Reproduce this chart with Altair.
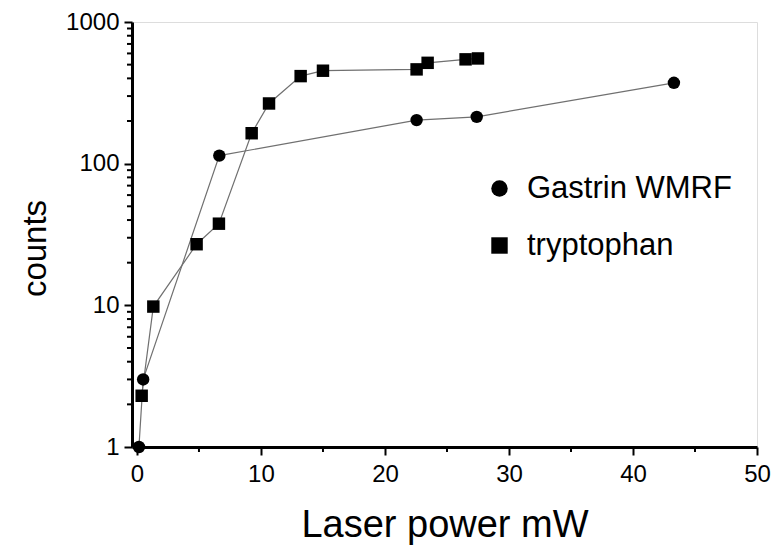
import altair as alt
import pandas as pd

# Gastrin WMRF series
gastrin_x = [0.16, 0.5, 6.64, 22.55, 27.4, 43.3]
gastrin_y = [1.0, 3.0, 114, 203, 214, 372]

# tryptophan series
trp_x = [0.38, 1.32, 4.81, 6.61, 9.25, 10.65, 13.2, 15.0, 22.55, 23.44, 26.5, 27.5]
trp_y = [2.3, 9.8, 27, 37.7, 164, 266, 415, 453, 463, 515, 545, 553]

series_names = ["Gastrin WMRF", "tryptophan"]

x_major = [0, 10, 20, 30, 40, 50]
x_minor = [5, 15, 25, 35, 45]
y_major = [1, 10, 100, 1000]
y_minor = [2, 3, 4, 5, 6, 7, 8, 9,
           20, 30, 40, 50, 60, 70, 80, 90,
           200, 300, 400, 500, 600, 700, 800, 900]

rows = []
for i, (x, y) in enumerate(zip(gastrin_x, gastrin_y)):
    rows.append({"power": x, "counts": y, "series": series_names[0], "idx": i})
for i, (x, y) in enumerate(zip(trp_x, trp_y)):
    rows.append({"power": x, "counts": y, "series": series_names[1], "idx": i})
df = pd.DataFrame(rows)

df_xminor = pd.DataFrame({"power": [float(v) for v in x_minor]})
df_yminor = pd.DataFrame({"counts": [float(v) for v in y_minor]})

FONT = "Liberation Sans"
W, H = 625, 425

x_scale = alt.Scale(domain=[-0.4, 50], nice=False, zero=False)
y_scale = alt.Scale(type="log", domain=[1, 1000], nice=False)

x_enc = alt.X(
    "power:Q",
    scale=x_scale,
    axis=alt.Axis(
        values=x_major,
        tickSize=8,
        tickWidth=2,
        tickColor="black",
        domainColor="black",
        domainWidth=3,
        labelFontSize=24,
        labelColor="black",
        labelPadding=7,
        labelFlush=False,
        grid=False,
        title="Laser power mW",
        titleFontSize=38,
        titleFontWeight="normal",
        titleColor="black",
        titleBaseline="alphabetic",
        titleY=89,
    ),
)

y_enc = alt.Y(
    "counts:Q",
    scale=y_scale,
    axis=alt.Axis(
        values=y_major,
        format="d",
        tickSize=8,
        tickWidth=2,
        tickColor="black",
        domainColor="black",
        domainWidth=3,
        labelFontSize=24,
        labelColor="black",
        labelPadding=5,
        labelFlush=False,
        grid=False,
        title="counts",
        titleFontSize=33,
        titleFontWeight="normal",
        titleColor="black",
        titleAngle=-90,
        titleAlign="center",
        titleBaseline="middle",
        titleX=-97,
        titleY=226,
    ),
)

lines = alt.Chart(df).mark_line(color="#707070", strokeWidth=1.2).encode(
    x=x_enc,
    y=y_enc,
    detail="series:N",
    order="idx:Q",
)

points = alt.Chart(df).mark_point(
    filled=True, color="black", opacity=1, size=155
).encode(
    x="power:Q",
    y="counts:Q",
    shape=alt.Shape(
        "series:N",
        scale=alt.Scale(domain=series_names, range=["circle", "square"]),
        legend=alt.Legend(
            title=None,
            orient="none",
            legendX=352,
            legendY=151,
            padding=0,
            labelFontSize=31,
            labelFont=FONT,
            labelColor="black",
            labelLimit=0,
            labelOffset=12,
            rowPadding=25,
            symbolSize=270,
            symbolFillColor="black",
            symbolStrokeColor="black",
            symbolStrokeWidth=0,
            symbolOpacity=1,
        ),
    ),
)

# minor tick marks on the x axis (outside, below the plot)
x_minor_ticks = alt.Chart(df_xminor).mark_rule(color="black", strokeWidth=2).encode(
    x=alt.X("power:Q"),
    y=alt.YValue(H),
    y2=alt.Y2Value(H + 5),
)

# minor tick marks on the log y axis (outside, left of the plot)
y_minor_ticks = alt.Chart(df_yminor).mark_rule(color="black", strokeWidth=2).encode(
    y=alt.Y("counts:Q"),
    x=alt.XValue(-5),
    x2=alt.X2Value(0),
)

chart = (
    alt.layer(lines, points, x_minor_ticks, y_minor_ticks)
    .properties(
        width=W,
        height=H,
        autosize=alt.AutoSizeParams(type="none"),
        padding={"left": 132, "top": 22, "right": 19, "bottom": 99},
        background="white",
    )
    .configure_view(stroke="black", strokeWidth=3)
    .configure(font=FONT)
)

chart.save("out.html", embed_options={"renderer": "svg", "actions": False})
